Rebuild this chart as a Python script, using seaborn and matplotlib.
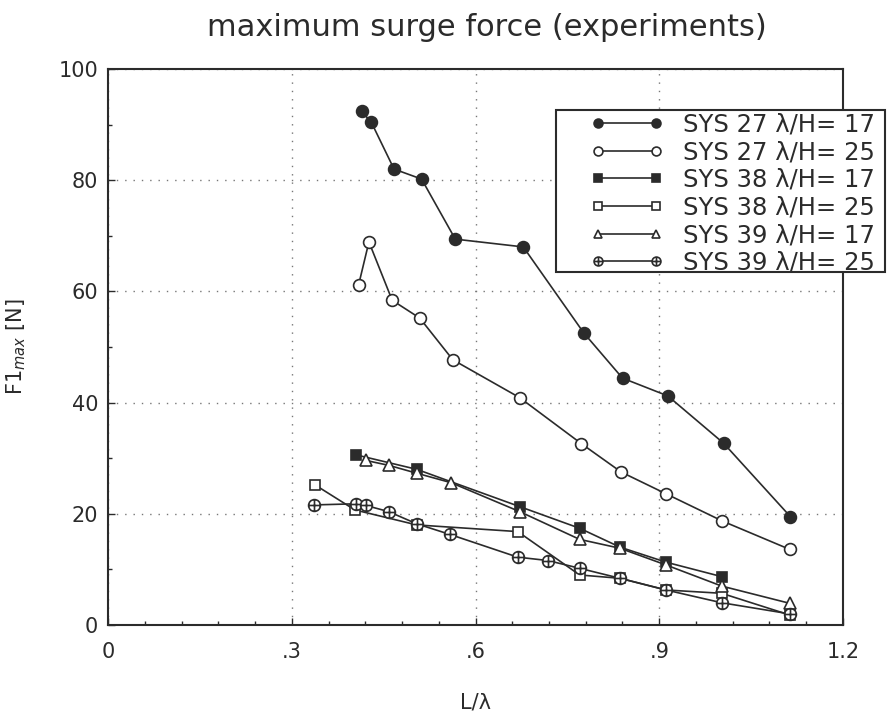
import numpy as np
import pandas as pd
import matplotlib
matplotlib.use("Agg")
import matplotlib.pyplot as plt
from matplotlib.path import Path
from matplotlib.patches import Rectangle
from matplotlib.ticker import MultipleLocator
import seaborn as sns

# Measured maximum surge force F1_max [N] versus L/lambda
sys27_17_x = [0.414, 0.430, 0.467, 0.512, 0.567, 0.678, 0.777, 0.840, 0.914, 1.005, 1.114]
sys27_17_y = [92.4, 90.4, 82.0, 80.2, 69.4, 68.0, 52.5, 44.4, 41.2, 32.7, 19.5]

sys27_25_x = [0.409, 0.426, 0.464, 0.509, 0.563, 0.672, 0.773, 0.838, 0.911, 1.003, 1.113]
sys27_25_y = [61.1, 68.9, 58.4, 55.2, 47.7, 40.9, 32.6, 27.5, 23.6, 18.7, 13.6]

sys38_17_x = [0.405, 0.504, 0.672, 0.770, 0.836, 0.911, 1.002]
sys38_17_y = [30.6, 28.0, 21.3, 17.4, 14.0, 11.3, 8.7]

sys38_25_x = [0.338, 0.403, 0.504, 0.669, 0.770, 0.836, 0.911, 1.002, 1.113]
sys38_25_y = [25.2, 20.7, 18.0, 16.8, 9.0, 8.4, 6.3, 5.7, 1.8]

sys39_17_x = [0.421, 0.459, 0.504, 0.560, 0.672, 0.770, 0.836, 0.911, 1.002, 1.113]
sys39_17_y = [29.6, 28.7, 27.3, 25.6, 20.4, 15.4, 13.8, 10.8, 7.0, 3.9]

sys39_25_x = [0.337, 0.405, 0.421, 0.458, 0.504, 0.558, 0.669, 0.718, 0.770, 0.836, 0.911, 1.002, 1.113]
sys39_25_y = [21.6, 21.8, 21.5, 20.4, 18.2, 16.3, 12.2, 11.6, 10.2, 8.4, 6.3, 4.0, 2.0]

series_labels = ["SYS 27 λ/H= 17", "SYS 27 λ/H= 25", "SYS 38 λ/H= 17",
                 "SYS 38 λ/H= 25", "SYS 39 λ/H= 17", "SYS 39 λ/H= 25"]
x_ticks = [0, 0.3, 0.6, 0.9, 1.2]
x_tick_labels = ["0", ".3", ".6", ".9", "1.2"]
y_ticks = [0, 20, 40, 60, 80, 100]

series_x = [sys27_17_x, sys27_25_x, sys38_17_x, sys38_25_x, sys39_17_x, sys39_25_x]
series_y = [sys27_17_y, sys27_25_y, sys38_17_y, sys38_25_y, sys39_17_y, sys39_25_y]

frames = []
for lab, xs, ys in zip(series_labels, series_x, series_y):
    frames.append(pd.DataFrame({"L/lambda": xs, "F1max": ys, "series": lab}))
df = pd.concat(frames, ignore_index=True)

# circle with a cross inside
circ = Path.unit_circle()
cross = Path([[-1, 0], [1, 0], [0, -1], [0, 1]],
             [Path.MOVETO, Path.LINETO, Path.MOVETO, Path.LINETO])
oplus = Path.make_compound_path(circ, cross)

ink = "#2b2b2b"
styles = {
    series_labels[0]: dict(marker="o", mfc=ink, ms=8.5),
    series_labels[1]: dict(marker="o", mfc="white", ms=8.5),
    series_labels[2]: dict(marker="s", mfc=ink, ms=7.5),
    series_labels[3]: dict(marker="s", mfc="white", ms=7.5),
    series_labels[4]: dict(marker="^", mfc="white", ms=8),
    series_labels[5]: dict(marker=oplus, mfc="white", ms=8.5),
}

sns.set_theme(style="white")
plt.rcParams["font.family"] = ["DejaVu Sans"]
plt.rcParams["text.color"] = ink

W, H = 889, 712
fig = plt.figure(figsize=(W / 100, H / 100), dpi=100)
ax = fig.add_axes([108 / W, 1 - 625 / H, (843 - 108) / W, (625 - 69) / H])

draw_order = [0, 1, 3, 5, 4, 2]
for i in draw_order:
    lab = series_labels[i]
    sub = df[df["series"] == lab]
    st = styles[lab]
    sns.lineplot(data=sub, x="L/lambda", y="F1max", ax=ax, color=ink, lw=1.2,
                 marker=st["marker"], markersize=st["ms"], markerfacecolor=st["mfc"],
                 markeredgecolor=ink, markeredgewidth=1.2, label=lab,
                 estimator=None, sort=False, zorder=3 + i)
if ax.get_legend() is not None:
    ax.get_legend().remove()

ax.set_xlim(0, 1.2)
ax.set_ylim(0, 100)
ax.set_xticks(x_ticks)
ax.set_xticklabels(x_tick_labels)
ax.set_yticks(y_ticks)
ax.xaxis.set_minor_locator(MultipleLocator(0.06))
ax.yaxis.set_minor_locator(MultipleLocator(10))
ax.tick_params(which="major", direction="in", length=5, width=1, colors=ink,
               labelsize=15, labelcolor=ink, bottom=True, left=True)
ax.tick_params(axis="x", which="major", pad=12)
ax.tick_params(axis="y", which="major", pad=7)
ax.tick_params(which="minor", direction="in", length=3, width=1, colors=ink,
               bottom=True, left=True)
ax.grid(True, which="major", color="#777777", lw=1.0, linestyle=(0, (1, 5)))
for s in ax.spines.values():
    s.set_color(ink)
    s.set_linewidth(1.5)
    s.set_visible(True)

ax.set_xlabel("L/λ", fontsize=15, color=ink, labelpad=22)
ax.set_ylabel("F1$_{max}$ [N]", fontsize=15, color=ink, labelpad=22)

fig.text(487 / W, 1 - 27 / H, "maximum surge force (experiments)",
         ha="center", va="center", fontsize=22, color=ink)

# legend frame, reaching past the right spine
box = Rectangle((556 / W, 1 - 272 / H), (885 - 556) / W, (272 - 110) / H,
                transform=fig.transFigure, facecolor="white", edgecolor=ink,
                lw=1.5, zorder=19)
fig.add_artist(box)

handles, labels = ax.get_legend_handles_labels()
order = [labels.index(l) for l in series_labels]
leg = fig.legend([handles[k] for k in order], [labels[k] for k in order],
                 loc="upper left", bbox_to_anchor=(587 / W, 1 - 109 / H),
                 bbox_transform=fig.transFigure, borderaxespad=0, numpoints=2,
                 fontsize=17.5, handlelength=3.0, handletextpad=0.8,
                 labelspacing=0.15, borderpad=0.15, markerscale=0.75,
                 frameon=False)
leg.set_zorder(21)

fig.savefig("out.png", dpi=100, facecolor="white")
